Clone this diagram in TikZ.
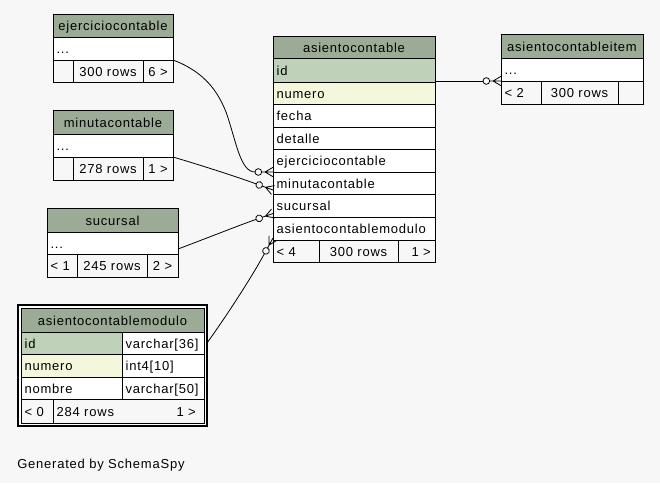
\documentclass[tikz,border=0pt]{standalone}
\usepackage{fontspec}
\setmainfont{Liberation Sans}[LetterSpace=6]
\usetikzlibrary{arrows.meta}

\definecolor{pagebg}{HTML}{F7F7F7}
\definecolor{headfill}{HTML}{9BAB96}
\definecolor{pkfill}{HTML}{BFD1B8}
\definecolor{idxfill}{HTML}{F4F7DC}

% crow's foot with an open circle ("zero or many")
\pgfdeclarearrow{
  name = CrowODot,
  setup code = {
    \pgfarrowssettipend{0pt}
    \pgfarrowssetbackend{-13.5pt}
    \pgfarrowssetlineend{-13.5pt}
    \pgfarrowshullpoint{0pt}{3.5pt}
    \pgfarrowshullpoint{0pt}{-3.5pt}
    \pgfarrowshullpoint{-13.5pt}{2.5pt}
    \pgfarrowshullpoint{-13.5pt}{-2.5pt}
  },
  drawing code = {
    \pgfsetdash{}{0pt}
    \pgfpathmoveto{\pgfqpoint{0pt}{3.5pt}}
    \pgfpathlineto{\pgfqpoint{-6pt}{0pt}}
    \pgfpathlineto{\pgfqpoint{0pt}{-3.5pt}}
    \pgfpathmoveto{\pgfqpoint{-8.5pt}{0pt}}
    \pgfpathlineto{\pgfqpoint{0pt}{0pt}}
    \pgfusepathqstroke
    \pgfpathcircle{\pgfqpoint{-11pt}{0pt}}{2.5pt}
    \pgfusepathqstroke
  }
}

\tikzset{
  cellbox/.style={draw=black, line width=0.75pt, inner sep=0pt, outer sep=0pt, fill=white},
  head/.style={fill=headfill},
  pk/.style={fill=pkfill},
  idx/.style={fill=idxfill},
  foot/.style={fill=pagebg},
  txt/.style={inner sep=0pt, font=\fontsize{9.75}{11}\selectfont, text height=7.5pt, text depth=0pt},
  rel/.style={draw=black, line width=0.6pt, -{CrowODot}},
}

% \tcell{name}{x1}{y1}{x2}{y2}{style}
\newcommand\tcell[6]{\node[cellbox,#6,anchor=north west,
  minimum width={(#4-(#2))*0.75pt},minimum height={(#5-(#3))*0.75pt}] (#1) at (#2,#3) {};}
\newcommand\ltxt[2]{\node[txt,anchor=west] (#1-t) at ([xshift=2.5pt]#1.west) {#2};}
\newcommand\ctxt[2]{\node[txt] (#1-t) at (#1.center) {#2};}
\newcommand\rtxt[2]{\node[txt,anchor=east] (#1-t) at ([xshift=-3pt]#1.east) {#2};}

\begin{document}
\begin{tikzpicture}[x=0.75pt,y=-0.75pt]
\fill[pagebg] (0,0) rectangle (660,483);
\useasboundingbox (0,0) rectangle (660,483);

% ejerciciocontable
\tcell{ej-h}{53}{14}{173}{37}{head} \ctxt{ej-h}{ejerciciocontable}
\tcell{ej-dots}{53}{37}{173}{60}{} \ltxt{ej-dots}{...}
\tcell{ej-f1}{53}{60}{73}{82}{foot}
\tcell{ej-f2}{73}{60}{143}{82}{foot} \ctxt{ej-f2}{300 rows}
\tcell{ej-f3}{143}{60}{173}{82}{foot} \ctxt{ej-f3}{6 >}

% minutacontable
\tcell{mi-h}{53}{110}{173}{134}{head} \ctxt{mi-h}{minutacontable}
\tcell{mi-dots}{53}{134}{173}{157}{} \ltxt{mi-dots}{...}
\tcell{mi-f1}{53}{157}{73}{180}{foot}
\tcell{mi-f2}{73}{157}{143}{180}{foot} \ctxt{mi-f2}{278 rows}
\tcell{mi-f3}{143}{157}{173}{180}{foot} \ctxt{mi-f3}{1 >}

% sucursal
\tcell{su-h}{47}{208}{178}{232}{head} \ctxt{su-h}{sucursal}
\tcell{su-dots}{47}{232}{178}{254}{} \ltxt{su-dots}{...}
\tcell{su-f1}{47}{254}{77}{277}{foot} \ltxt{su-f1}{< 1}
\tcell{su-f2}{77}{254}{147}{277}{foot} \ctxt{su-f2}{245 rows}
\tcell{su-f3}{147}{254}{178}{277}{foot} \ctxt{su-f3}{2 >}

% asientocontable
\tcell{ac-h}{273}{36}{435}{58}{head} \ctxt{ac-h}{asientocontable}
\tcell{ac-id}{273}{58}{435}{82}{pk} \ltxt{ac-id}{id}
\tcell{ac-num}{273}{82}{435}{104}{idx} \ltxt{ac-num}{numero}
\tcell{ac-fecha}{273}{104}{435}{127}{} \ltxt{ac-fecha}{fecha}
\tcell{ac-det}{273}{127}{435}{149}{} \ltxt{ac-det}{detalle}
\tcell{ac-ej}{273}{149}{435}{172}{} \ltxt{ac-ej}{ejerciciocontable}
\tcell{ac-mi}{273}{172}{435}{194}{} \ltxt{ac-mi}{minutacontable}
\tcell{ac-su}{273}{194}{435}{217}{} \ltxt{ac-su}{sucursal}
\tcell{ac-mod}{273}{217}{435}{240}{} \ltxt{ac-mod}{asientocontablemodulo}
\tcell{ac-f1}{273}{240}{319}{262}{foot} \ltxt{ac-f1}{< 4}
\tcell{ac-f2}{319}{240}{398}{262}{foot} \ctxt{ac-f2}{300 rows}
\tcell{ac-f3}{398}{240}{435}{262}{foot} \rtxt{ac-f3}{1 >}

% asientocontableitem
\tcell{it-h}{501}{34}{643}{58}{head} \ctxt{it-h}{asientocontableitem}
\tcell{it-dots}{501}{58}{643}{81}{} \ltxt{it-dots}{...}
\tcell{it-f1}{501}{81}{541}{104}{foot} \ltxt{it-f1}{< 2}
\tcell{it-f2}{541}{81}{618}{104}{foot} \ctxt{it-f2}{300 rows}
\tcell{it-f3}{618}{81}{643}{104}{foot}

% asientocontablemodulo (double frame)
\node[draw=black, line width=1.1pt, fill=white, inner sep=0pt, outer sep=0pt, anchor=north west,
  minimum width={(207-18)*0.75pt}, minimum height={(426-305)*0.75pt}] (acm-frame) at (18,305) {};
\tcell{acm-h}{21}{308}{204}{332}{head} \ctxt{acm-h}{asientocontablemodulo}
\tcell{acm-id-n}{21}{332}{122}{354}{pk} \ltxt{acm-id-n}{id}
\tcell{acm-id-d}{122}{332}{204}{354}{} \ltxt{acm-id-d}{varchar[36]}
\tcell{acm-num-n}{21}{354}{122}{377}{idx} \ltxt{acm-num-n}{numero}
\tcell{acm-num-d}{122}{354}{204}{377}{} \ltxt{acm-num-d}{int4[10]}
\tcell{acm-nom-n}{21}{377}{122}{399}{} \ltxt{acm-nom-n}{nombre}
\tcell{acm-nom-d}{122}{377}{204}{399}{} \ltxt{acm-nom-d}{varchar[50]}
\tcell{acm-f1}{21}{399}{53}{423}{foot} \ltxt{acm-f1}{< 0}
\tcell{acm-f2}{53}{399}{204}{423}{foot} \ltxt{acm-f2}{284 rows}
\node[txt,anchor=east] (acm-f2-r) at ([xshift=-6pt]acm-f2.east) {1 >};

% relationships
\draw[rel] (ej-dots.south east) .. controls (205,72) and (218,92) .. (226,112)
  .. controls (236,140) and (240,172) .. (ac-ej.south west);
\draw[rel] (mi-dots.south east) .. controls (210,168) and (240,178) .. ([yshift=-5.25pt]ac-mi.west);
\draw[rel] ([yshift=3.75pt]su-dots.south east) .. controls (215,235) and (240,225) .. ([yshift=-6pt]ac-su.west);
\draw[rel] (acm-frame.east |- acm-id-d.east) .. controls (225,318) and (250,280) .. ([yshift=1.5pt]ac-mod.south west);
\draw[rel] (ac-id.east |- it-dots.south west) -- (it-dots.south west);

\node[txt,anchor=west] (gen) at (17,463) {Generated by SchemaSpy};
\end{tikzpicture}
\end{document}
